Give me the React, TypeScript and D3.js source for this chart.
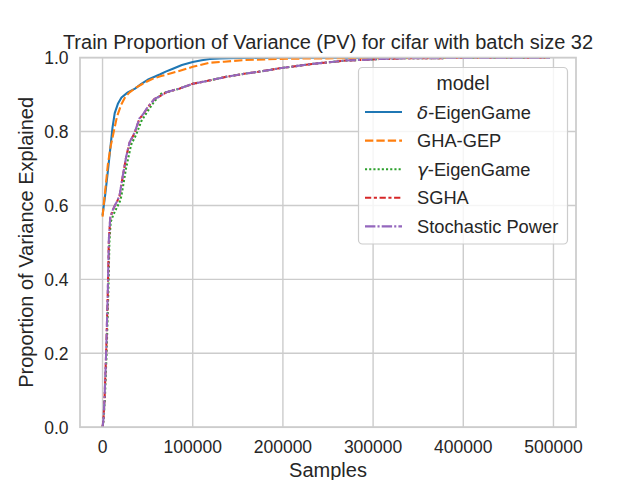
import * as d3 from "d3";

// samples (x) and proportion of variance explained for each model
const deltaX = [0, 3000, 6000, 8000, 11000, 13500, 17000, 21000, 28000, 36000, 43000, 50000, 57600, 64000, 70000, 78000, 88000, 100000, 110000, 119000, 130000, 150000, 200000, 300000, 400000, 496000];
const deltaY = [0.573, 0.63, 0.695, 0.74, 0.81, 0.85, 0.875, 0.892, 0.906, 0.916, 0.929, 0.94, 0.948, 0.955, 0.962, 0.97, 0.98, 0.988, 0.993, 0.996, 0.998, 0.999, 1.0, 1.0, 1.0, 1.0];

const ghaX = [0, 2500, 5900, 9000, 12500, 16000, 20700, 25000, 30000, 38000, 46600, 55000, 65000, 75000, 85000, 100000, 118600, 135000, 155000, 180000, 205000, 250000, 300000, 400000, 492000];
const ghaY = [0.57, 0.63, 0.711, 0.76, 0.8, 0.84, 0.873, 0.893, 0.906, 0.92, 0.932, 0.942, 0.95, 0.957, 0.964, 0.975, 0.986, 0.989, 0.993, 0.995, 0.997, 0.998, 0.999, 0.999, 0.999];

const gammaX = [0, 1200, 2600, 4600, 6500, 7600, 9000, 12000, 15000, 18000, 20000, 22500, 26000, 31800, 37000, 43000, 50000, 57600, 65000, 70600, 85000, 100000, 118000, 137000, 159000, 174000, 196000, 233000, 270000, 307000, 330000, 400000, 496000];
const gammaY = [0.0, 0.02, 0.076, 0.21, 0.373, 0.5, 0.555, 0.575, 0.59, 0.605, 0.615, 0.648, 0.7, 0.765, 0.79, 0.828, 0.855, 0.882, 0.902, 0.906, 0.916, 0.929, 0.938, 0.948, 0.957, 0.962, 0.971, 0.983, 0.992, 0.996, 0.998, 0.999, 0.999];

const sghaX = [0, 1000, 2200, 4100, 5900, 7000, 8500, 11000, 13300, 16000, 18800, 22500, 26300, 30000, 35500, 41000, 44700, 50000, 57600, 63200, 70600, 85000, 100000, 118000, 137000, 159000, 174000, 196000, 233000, 270000, 307000, 330000, 400000, 496000];
const sghaY = [0.0, 0.02, 0.076, 0.21, 0.373, 0.508, 0.565, 0.585, 0.598, 0.61, 0.625, 0.68, 0.733, 0.77, 0.796, 0.835, 0.845, 0.865, 0.888, 0.895, 0.906, 0.916, 0.929, 0.938, 0.948, 0.957, 0.962, 0.971, 0.983, 0.992, 0.996, 0.998, 0.999, 0.999];

const powerX = [0, 1000, 2200, 4100, 5900, 7000, 8500, 11000, 13300, 16000, 18800, 22500, 26300, 30000, 35500, 41000, 44700, 50000, 57600, 63200, 70600, 85000, 100000, 118000, 137000, 159000, 174000, 196000, 233000, 270000, 307000, 330000, 400000, 496000];
const powerY = [0.0, 0.02, 0.076, 0.21, 0.375, 0.508, 0.567, 0.586, 0.598, 0.611, 0.626, 0.681, 0.733, 0.771, 0.797, 0.836, 0.846, 0.866, 0.888, 0.895, 0.906, 0.916, 0.929, 0.938, 0.948, 0.957, 0.962, 0.971, 0.983, 0.992, 0.996, 0.998, 0.999, 0.999];

const xTicks = [0, 100000, 200000, 300000, 400000, 500000];
const yTicks = [0, 0.2, 0.4, 0.6, 0.8, 1.0];

type Series = {
  greek?: string;
  name: string;
  xs: number[];
  ys: number[];
  color: string;
  dash: string | null;
};

const series: Series[] = [
  { greek: "δ", name: "-EigenGame", xs: deltaX, ys: deltaY, color: "#1f77b4", dash: null },
  { name: "GHA-GEP", xs: ghaX, ys: ghaY, color: "#ff7f0e", dash: "8.3 3.1" },
  { greek: "γ", name: "-EigenGame", xs: gammaX, ys: gammaY, color: "#2ca02c", dash: "2.1 2.1" },
  { name: "SGHA", xs: sghaX, ys: sghaY, color: "#d62728", dash: "6.25 2.6 3.1 2.6" },
  { name: "Stochastic Power", xs: powerX, ys: powerY, color: "#9467bd", dash: "10.4 2.1 2.1 2.1" },
];

const W = 640;
const H = 480;
const plot = { left: 80, right: 576, top: 57.6, bottom: 427.2 };
const textColor = "#262626";
const gridColor = "#cccccc";
const font = "'Liberation Sans', Arial, sans-serif";

export default function App() {
  const x = d3.scaleLinear().domain([-25000, 525000]).range([plot.left, plot.right]);
  const y = d3.scaleLinear().domain([0, 1]).range([plot.bottom, plot.top]);

  const line = d3
    .line<[number, number]>()
    .x((d) => x(d[0]))
    .y((d) => y(d[1]));

  const legend = { x: 358.5, y: 67.5, w: 209, h: 176.5 };
  const rowY = (i: number) => 112 + i * 28.6;

  return (
    <div style={{ position: "fixed", left: 0, top: 0 }}>
      <svg width={W} height={H} style={{ display: "block", background: "#fff" }} fontFamily={font}>
        <defs>
          <clipPath id="plotClip">
            <rect x={plot.left} y={plot.top} width={plot.right - plot.left} height={plot.bottom - plot.top} />
          </clipPath>
        </defs>

        {/* grid */}
        {xTicks.map((t) => (
          <line key={"gx" + t} x1={x(t)} x2={x(t)} y1={plot.top} y2={plot.bottom} stroke={gridColor} strokeWidth={1.4} />
        ))}
        {yTicks.map((t) => (
          <line key={"gy" + t} x1={plot.left} x2={plot.right} y1={y(t)} y2={y(t)} stroke={gridColor} strokeWidth={1.4} />
        ))}

        {/* curves */}
        <g clipPath="url(#plotClip)">
          {series.map((s, i) => (
            <path
              key={i}
              d={line(s.xs.map((v, j) => [v, s.ys[j]] as [number, number])) || ""}
              fill="none"
              stroke={s.color}
              strokeWidth={2.08}
              strokeDasharray={s.dash || undefined}
              strokeLinejoin="round"
            />
          ))}
        </g>

        {/* frame */}
        <rect
          x={plot.left}
          y={plot.top}
          width={plot.right - plot.left}
          height={plot.bottom - plot.top}
          fill="none"
          stroke={gridColor}
          strokeWidth={1.74}
        />

        {/* tick labels */}
        {xTicks.map((t) => (
          <text key={"tx" + t} x={x(t)} y={452.5} textAnchor="middle" fontSize={17.5} fill={textColor}>
            {String(t)}
          </text>
        ))}
        {yTicks.map((t) => (
          <text key={"ty" + t} x={68.5} y={y(t)} dy="0.36em" textAnchor="end" fontSize={17.5} fill={textColor}>
            {t.toFixed(1)}
          </text>
        ))}

        {/* labels */}
        <text x={(plot.left + plot.right) / 2} y={476.5} textAnchor="middle" fontSize={20} fill={textColor}>
          Samples
        </text>
        <text
          transform={`translate(33, ${(plot.top + plot.bottom) / 2}) rotate(-90)`}
          textAnchor="middle"
          fontSize={20}
          fill={textColor}
        >
          Proportion of Variance Explained
        </text>
        <text x={(plot.left + plot.right) / 2} y={49} textAnchor="middle" fontSize={20} fill={textColor}>
          Train Proportion of Variance (PV) for cifar with batch size 32
        </text>

        {/* legend */}
        <rect
          x={legend.x}
          y={legend.y}
          width={legend.w}
          height={legend.h}
          rx={4}
          fill="#ffffff"
          fillOpacity={0.8}
          stroke={gridColor}
          strokeWidth={1.2}
        />
        <text x={legend.x + legend.w / 2} y={89.5} textAnchor="middle" fontSize={19.5} fill={textColor}>
          model
        </text>
        {series.map((s, i) => (
          <g key={"lg" + i}>
            <line
              x1={365}
              x2={402}
              y1={rowY(i)}
              y2={rowY(i)}
              stroke={s.color}
              strokeWidth={2.08}
              strokeDasharray={s.dash || undefined}
            />
            <text x={417} y={rowY(i)} dy="0.36em" fontSize={18.3} fill={textColor}>
              {s.greek ? (
                <tspan fontFamily="'DejaVu Sans', sans-serif" fontStyle="italic">
                  {s.greek}
                </tspan>
              ) : null}
              {s.name}
            </text>
          </g>
        ))}
      </svg>
    </div>
  );
}
